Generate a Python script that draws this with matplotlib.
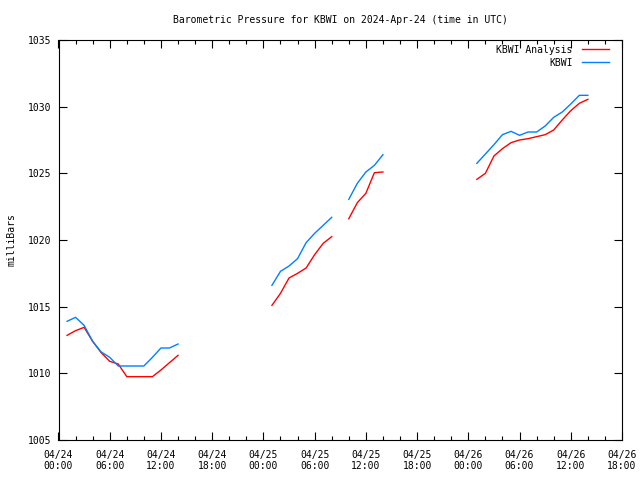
import matplotlib
matplotlib.use("Agg")
import matplotlib.pyplot as plt
import matplotlib.dates as mdates
import numpy as np
from datetime import datetime, timedelta

start = datetime(2024, 4, 24, 0, 0)

# hours after 2024-04-24 00:00 UTC
hours = [1, 2, 3, 4, 5, 6, 7, 8, 9, 10, 11, 12, 13, 14,
         25, 26, 27, 28, 29, 30, 31, 32,
         34, 35, 36, 37, 38,
         49, 50, 51, 52, 53, 54, 55, 56, 57, 58, 59, 60, 61, 62]
segments = [1]*14 + [2]*8 + [3]*5 + [4]*14

kbwi = [1013.9, 1014.2, 1013.6, 1012.4, 1011.6, 1011.2, 1010.55, 1010.55, 1010.55, 1010.55, 1011.2, 1011.9, 1011.9, 1012.2,
        1016.6, 1017.65, 1018.05, 1018.6, 1019.8, 1020.5, 1021.1, 1021.7,
        1023.05, 1024.25, 1025.1, 1025.6, 1026.4,
        1025.75, 1026.45, 1027.15, 1027.9, 1028.15, 1027.85, 1028.1, 1028.1, 1028.55, 1029.2, 1029.6, 1030.2, 1030.85, 1030.85]

analysis = [1012.85, 1013.2, 1013.45, 1012.4, 1011.55, 1010.9, 1010.7, 1009.75, 1009.75, 1009.75, 1009.75, 1010.25, 1010.8, 1011.35,
            1015.1, 1016.0, 1017.15, 1017.5, 1017.9, 1018.9, 1019.75, 1020.25,
            1021.6, 1022.8, 1023.5, 1025.05, 1025.1,
            1024.55, 1025.0, 1026.3, 1026.85, 1027.3, 1027.5, 1027.6, 1027.75, 1027.9, 1028.25, 1029.0, 1029.7, 1030.25, 1030.55]

title = "Barometric Pressure for KBWI on 2024-Apr-24 (time in UTC)"
ylabel = "milliBars"
red = "#ff0000"
blue = "#0080ff"

plt.rcParams['font.family'] = ['DejaVu Sans Mono']
fig = plt.figure(figsize=(6.4, 4.8), dpi=100)
ax = fig.add_axes([58.5/640, 40/480, (622-58.5)/640, 400/480])

times = np.array([start + timedelta(hours=h) for h in hours])
seg = np.array(segments)
kb = np.array(kbwi)
an = np.array(analysis)
first = True
for s in sorted(set(segments)):
    m = seg == s
    ax.plot(times[m], an[m], color=red, lw=1, label="KBWI Analysis" if first else None)
    ax.plot(times[m], kb[m], color=blue, lw=1, label="KBWI" if first else None)
    first = False

ax.set_xlim(start, start + timedelta(hours=66))
ax.set_ylim(1005, 1035)
ax.set_yticks(np.arange(1005, 1036, 5))
ax.xaxis.set_major_locator(mdates.HourLocator(byhour=[0, 6, 12, 18]))
ax.xaxis.set_minor_locator(mdates.HourLocator(interval=2))
ax.xaxis.set_major_formatter(mdates.DateFormatter("%m/%d\n%H:%M"))

ax.tick_params(axis='both', which='both', direction='in', top=True, right=True, labelsize=7, width=0.8)
ax.tick_params(axis='x', which='major', length=6, pad=7)
ax.tick_params(axis='x', which='minor', length=3)
ax.tick_params(axis='y', which='major', length=6, pad=5)
for sp in ax.spines.values():
    sp.set_linewidth(0.8)

ax.set_title(title, fontsize=7, pad=12)
ax.set_ylabel(ylabel, fontsize=7, labelpad=8)

leg = ax.legend(loc='upper right', bbox_to_anchor=(1.0, 1.0 + 8/400), frameon=False,
                markerfirst=False, fontsize=7,
                handlelength=2.8, handletextpad=1.0, labelspacing=0.33,
                borderaxespad=0.9)
for t in leg.get_texts():
    t.set_ha('right')
leg._legend_box.align = "right"

fig.savefig("out.png", dpi=100)
